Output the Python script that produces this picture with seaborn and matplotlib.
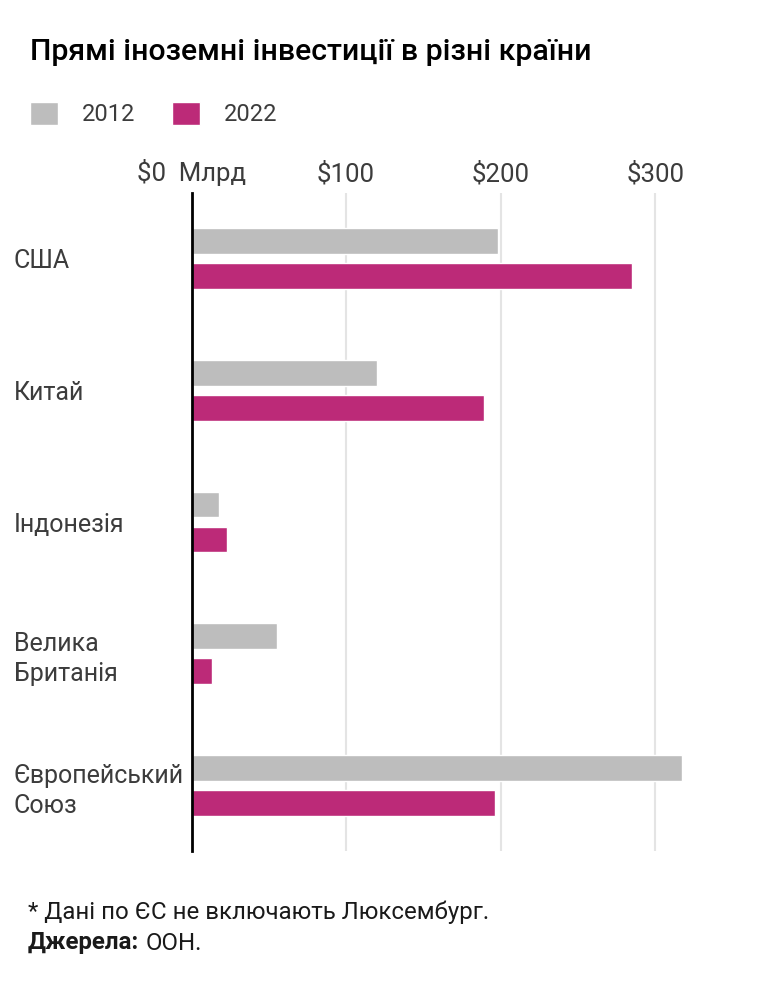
import matplotlib
matplotlib.use("Agg")
import pandas as pd
import seaborn as sns
from matplotlib import pyplot as plt

# data (billions USD)
countries = ["США", "Китай", "Індонезія", "Велика\nБританія", "Європейський\nСоюз"]
years = ["2012", "2022"]
fdi_2012 = [198.5, 120, 17.5, 55, 317.5]
fdi_2022 = [285, 189.5, 23, 13.5, 196.5]
tick_vals = [0, 100, 200, 300]
tick_text = ["$0  Млрд", "$100", "$200", "$300"]

df = pd.DataFrame({
    "country": countries * 2,
    "year": [years[0]] * len(countries) + [years[1]] * len(countries),
    "value": fdi_2012 + fdi_2022,
})

gray = "#bdbdbd"
magenta = "#bc2a78"
text_col = "#3c3c3c"

sns.set_theme(style="white")
plt.rcParams["font.family"] = ["Roboto", "DejaVu Sans"]

W, H = 764, 1007
fig = plt.figure(figsize=(W / 100, H / 100), dpi=100)
ax = fig.add_axes([191.5 / W, 1 - 851 / H, 525.6 / W, 658 / H])

sns.barplot(data=df, x="value", y="country", hue="year", palette=[gray, magenta],
            saturation=1, width=0.53, gap=0.26, ax=ax)

ax.set_xlim(0, 340)
ax.set_xlabel("")
ax.set_ylabel("")
ax.xaxis.tick_top()
ax.set_xticks(tick_vals)
ax.set_xticklabels(tick_text)
ax.grid(axis="x", color="#e4e4e4", lw=1.5)
ax.set_axisbelow(True)
for s in ["top", "right", "bottom"]:
    ax.spines[s].set_visible(False)
ax.spines["left"].set_color("black")
ax.spines["left"].set_linewidth(2)

ax.tick_params(axis="x", length=0, pad=5, labelsize=18.5, labelcolor=text_col)
ax.tick_params(axis="y", length=0, pad=128, labelsize=18, labelcolor=text_col)
for lbl in ax.get_yticklabels():
    lbl.set_ha("left")
    lbl.set_linespacing(1.32)

sns.move_legend(ax, "upper left", bbox_to_anchor=(30 / W, 1 - 102 / H),
                bbox_transform=fig.transFigure, ncol=2, frameon=False, title=None,
                fontsize=17, handlelength=1.19, handleheight=1.1,
                handletextpad=1.0, columnspacing=1.55, borderpad=0, borderaxespad=0)
for t in ax.get_legend().get_texts():
    t.set_color(text_col)

fig.text(30 / W, 1 - 52 / H, "Прямі іноземні інвестиції в різні країни",
         fontsize=21.8, weight="medium", color="black", va="center", ha="left")

fig.text(28 / W, 1 - 912 / H, "* Дані по ЄС не включають Люксембург.",
         fontsize=17.3, color="#1a1a1a", va="center", ha="left")
src = fig.text(28 / W, 1 - 943 / H, "Джерела:", fontsize=17.3, weight="bold",
               color="#1a1a1a", va="center", ha="left")
fig.canvas.draw()
bb = src.get_window_extent()
fig.text((bb.x1 + 6) / W, 1 - 943 / H, "ООН.", fontsize=17.3,
         color="#1a1a1a", va="center", ha="left")

fig.savefig("out.png", dpi=100)
